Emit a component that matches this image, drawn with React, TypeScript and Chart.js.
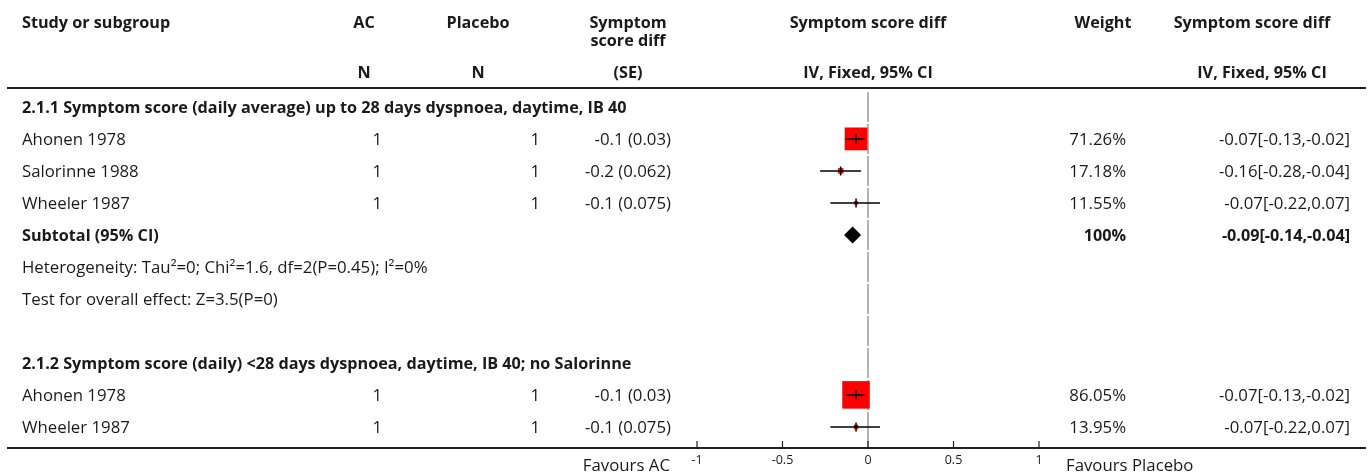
import React, { useEffect, useRef } from "react";
import { Chart, registerables } from "chart.js";

Chart.register(...registerables);

// ---------- data ----------
const rowLabels: string[] = [
  "2.1.1 Symptom score (daily average) up to 28 days dyspnoea, daytime, IB 40",
  "Ahonen 1978",
  "Salorinne 1988",
  "Wheeler 1987",
  "Subtotal (95% CI)",
  "Heterogeneity: Tau\u00B2=0; Chi\u00B2=1.6, df=2(P=0.45); I\u00B2=0%",
  "Test for overall effect: Z=3.5(P=0)",
  "",
  "2.1.2 Symptom score (daily) <28 days dyspnoea, daytime, IB 40; no Salorinne",
  "Ahonen 1978",
  "Wheeler 1987",
];
const boldRows: number[] = [0, 4, 8];

const studyRows: number[] = [1, 2, 3, 9, 10];
const acN: number[] = [1, 1, 1, 1, 1];
const placeboN: number[] = [1, 1, 1, 1, 1];
const seText: string[] = ["-0.1 (0.03)", "-0.2 (0.062)", "-0.1 (0.075)", "-0.1 (0.03)", "-0.1 (0.075)"];
const estimates: number[] = [-0.07, -0.16, -0.07, -0.07, -0.07];
const lowerCI: number[] = [-0.13, -0.28, -0.22, -0.13, -0.22];
const upperCI: number[] = [-0.02, -0.04, 0.07, -0.02, 0.07];
const weights: number[] = [71.26, 17.18, 11.55, 86.05, 13.95];

const subtotalRow = 4;
const subtotalEst = -0.09;
const subtotalLo = -0.14;
const subtotalHi = -0.04;
const subtotalWeight = "100%";

const xTicksMin = -1;
const xTicksMax = 1;
const xTickStep = 0.5;

// ---------- style ----------
const FONT = "'Open Sans'";
const FS = 16.8;
const FSB = 16.2;
const TXT = "#1a1a1a";
const DY = 1.5;

const fmt = (v: number) => v.toFixed(2);

const tablePlugin = {
  id: "forestTable",
  beforeDatasetsDraw(chart: any) {
    const { ctx, scales, chartArea } = chart;
    const x = scales.x;
    const y = scales.y;
    const x0 = x.getPixelForValue(0);
    ctx.save();
    ctx.strokeStyle = "#9a9a9a";
    ctx.lineWidth = 1.5;
    for (let i = 0; i < rowLabels.length; i++) {
      const top = Math.max(chartArea.top + 4, y.getPixelForValue(i - 0.5) + 1);
      const bot = i === rowLabels.length - 1 ? chartArea.bottom : y.getPixelForValue(i + 0.5) - 1;
      ctx.beginPath();
      ctx.moveTo(x0, top);
      ctx.lineTo(x0, bot);
      ctx.stroke();
    }
    ctx.restore();
  },
  afterDatasetsDraw(chart: any) {
    const { ctx, scales, chartArea, width } = chart;
    const x = scales.x;
    const y = scales.y;
    ctx.save();
    ctx.strokeStyle = "#000";
    ctx.lineWidth = 1.5;
    for (let k = 0; k < studyRows.length; k++) {
      const py = y.getPixelForValue(studyRows[k]);
      const xl = x.getPixelForValue(lowerCI[k]);
      const xh = x.getPixelForValue(upperCI[k]);
      const xe = x.getPixelForValue(estimates[k]);
      ctx.beginPath();
      ctx.moveTo(xl, py);
      ctx.lineTo(xh, py);
      ctx.moveTo(xe, py - 4.5);
      ctx.lineTo(xe, py + 4.5);
      ctx.stroke();
    }
    {
      const py = y.getPixelForValue(subtotalRow);
      const xl = x.getPixelForValue(subtotalLo);
      const xh = x.getPixelForValue(subtotalHi);
      const xe = x.getPixelForValue(subtotalEst);
      ctx.fillStyle = "#000";
      ctx.beginPath();
      ctx.moveTo(xl, py);
      ctx.lineTo(xe, py - 8.5);
      ctx.lineTo(xh, py);
      ctx.lineTo(xe, py + 8.5);
      ctx.closePath();
      ctx.fill();
    }
    ctx.strokeStyle = "#222";
    ctx.lineWidth = 2;
    ctx.beginPath();
    ctx.moveTo(7, chartArea.top);
    ctx.lineTo(width - 4, chartArea.top);
    ctx.moveTo(7, chartArea.bottom);
    ctx.lineTo(width - 4, chartArea.bottom);
    ctx.stroke();
    ctx.lineWidth = 1.2;
    ctx.beginPath();
    for (let v = xTicksMin; v <= xTicksMax + 1e-9; v += xTickStep) {
      const px = x.getPixelForValue(v);
      ctx.moveTo(px, chartArea.bottom);
      ctx.lineTo(px, chartArea.bottom - 7);
    }
    ctx.stroke();

    ctx.fillStyle = TXT;
    ctx.textBaseline = "middle";
    const bold = `bold ${FSB}px ${FONT}`;
    const reg = `${FS}px ${FONT}`;
    const put = (t: string, px: number, py: number, align: CanvasTextAlign, f: string) => {
      ctx.font = f;
      ctx.textAlign = align;
      ctx.fillText(t, px, py + DY);
    };
    const xMid = x.getPixelForValue(0);
    put("Study or subgroup", 22, 22, "left", bold);
    put("AC", 364, 22, "center", bold);
    put("N", 364, 72, "center", bold);
    put("Placebo", 478, 22, "center", bold);
    put("N", 478, 72, "center", bold);
    put("Symptom", 628, 22, "center", bold);
    put("score diff", 628, 40, "center", bold);
    put("(SE)", 628, 72, "center", bold);
    put("Symptom score diff", xMid, 22, "center", bold);
    put("IV, Fixed, 95% CI", xMid, 72, "center", bold);
    put("Weight", 1103, 22, "center", bold);
    put("Symptom score diff", 1252, 22, "center", bold);
    put("IV, Fixed, 95% CI", 1262, 72, "center", bold);

    for (let i = 0; i < rowLabels.length; i++) {
      if (!rowLabels[i]) continue;
      put(rowLabels[i], 22, y.getPixelForValue(i), "left", boldRows.includes(i) ? bold : reg);
    }
    for (let k = 0; k < studyRows.length; k++) {
      const py = y.getPixelForValue(studyRows[k]);
      put(String(acN[k]), 382, py, "right", reg);
      put(String(placeboN[k]), 540, py, "right", reg);
      put(seText[k], 671, py, "right", reg);
      put(fmt(weights[k]) + "%", 1126, py, "right", reg);
      put(`${fmt(estimates[k])}[${fmt(lowerCI[k])},${fmt(upperCI[k])}]`, 1350, py, "right", reg);
    }
    {
      const py = y.getPixelForValue(subtotalRow);
      put(subtotalWeight, 1126, py, "right", bold);
      put(`${fmt(subtotalEst)}[${fmt(subtotalLo)},${fmt(subtotalHi)}]`, 1350, py, "right", bold);
    }
    put("Favours AC", 670, 465, "right", reg);
    put("Favours Placebo", 1066, 465, "left", reg);
    ctx.restore();
  },
};

export default function App() {
  const ref = useRef<HTMLCanvasElement | null>(null);
  useEffect(() => {
    if (!ref.current) return;
    const chart = new Chart(ref.current, {
      type: "scatter",
      data: {
        datasets: [
          {
            data: studyRows.map((r, k) => ({ x: estimates[k], y: r })),
            pointStyle: "rect",
            pointRadius: weights.map((w) => (w * 0.32) / 2 / Math.SQRT1_2),
            backgroundColor: "#ff0000",
            borderWidth: 0,
          },
        ],
      },
      options: {
        animation: false,
        responsive: true,
        maintainAspectRatio: false,
        events: [],
        layout: { padding: { left: 697, right: 331, top: 88, bottom: 0 } },
        plugins: { legend: { display: false }, tooltip: { enabled: false } },
        scales: {
          x: {
            type: "linear",
            min: xTicksMin,
            max: xTicksMax,
            grid: { display: false, drawTicks: false },
            border: { display: false },
            ticks: {
              stepSize: xTickStep,
              padding: 5,
              color: TXT,
              font: { family: "Open Sans", size: 12.5 },
              maxRotation: 0,
              callback: (v: any) => String(Number(v)),
            },
            afterFit: (s: any) => {
              s.height = 28;
            },
          },
          y: {
            type: "linear",
            min: -0.59,
            max: 10.66,
            reverse: true,
            display: false,
          },
        },
      },
      plugins: [tablePlugin],
    });
    return () => chart.destroy();
  }, []);
  return (
    <div style={{ position: "fixed", left: 0, top: 0, width: 1370, height: 476, background: "#fff" }}>
      <canvas ref={ref} style={{ width: "100%", height: "100%" }} />
    </div>
  );
}
